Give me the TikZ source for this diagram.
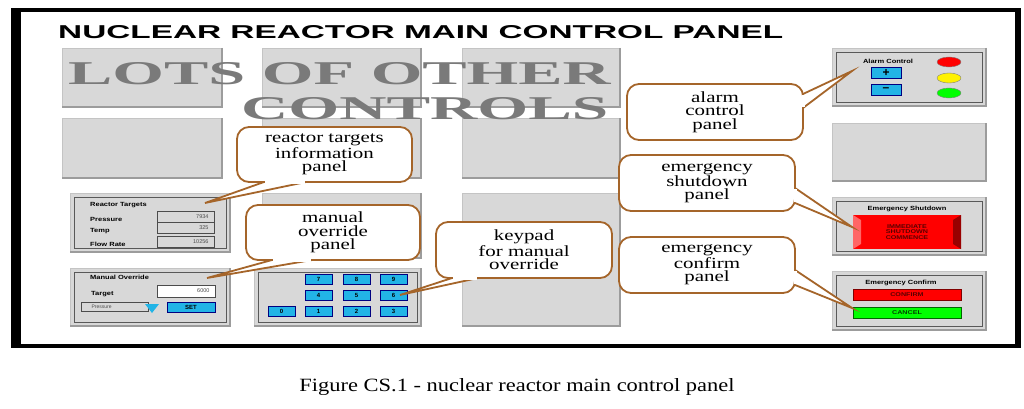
\documentclass[tikz,border=0pt]{standalone}
\usepackage{fontspec}
\setmainfont{Liberation Serif}
\setsansfont{Liberation Sans}
\usepackage{graphicx}
\definecolor{cb}{HTML}{A5652A}
\definecolor{gfill}{HTML}{D8D8D8}
\definecolor{gedge}{HTML}{9C9C9C}
\definecolor{cyanb}{HTML}{22B4E6}
\definecolor{bigtxt}{HTML}{7A7A7A}
\newcommand\fitt[3]{\resizebox{#1pt}{#2pt}{#3}}
\newcommand\gbox[4]{\fill[gfill] (#1,#2) rectangle (#3,#4);
 \draw[gedge!60,line width=0.8pt] (#1,#4) -- (#1,#2) -- (#3,#2);
 \draw[gedge,line width=2.2pt] (#3,#2) -- (#3,#4) -- (#1,#4);}
\newcommand\pbox[4]{\gbox{#1}{#2}{#3}{#4}\draw[gray!70!black,line width=0.5pt] (#1+4,#2+4) rectangle (#3-4,#4-4);}
\newcommand\tl[1]{{\sffamily\bfseries\fontsize{6}{6}\selectfont\scalebox{1.25}[1]{#1}}}
\newcommand\cbtn[5]{\fill[cyanb] (#1,#2) rectangle (#3,#4); \draw[blue!50!black,line width=0.6pt] (#1,#2) rectangle (#3,#4);
 \node[font=\sffamily\bfseries\fontsize{6}{6}\selectfont] at ({(#1+#3)/2},{(#2+#4)/2}) {#5};}
\tikzset{x=1pt,y=-1pt,
 callout/.style={draw=cb,line width=1.8pt,fill=white,rounded corners=12pt,align=center,
   font=\fontsize{15.5}{13.5}\selectfont,inner sep=0pt},
 ctail/.style={draw=cb,line width=1.8pt,fill=white},
 cgap/.style={white,line width=3pt,shorten <=1pt,shorten >=1pt}}
\newcommand\wide[1]{\scalebox{1.35}[1]{#1}}
\begin{document}
\begin{tikzpicture}
\useasboundingbox (0,0) rectangle (1024,409);
\fill[white] (0,0) rectangle (1024,409);
% frame
\fill[black] (11,8) rectangle (1021,348);
\fill[white] (21,12) rectangle (1015,344);
% title
\node[anchor=south west,inner sep=0pt] (title) at (58,39) {\sffamily\bfseries\fitt{725}{13}{NUCLEAR REACTOR MAIN CONTROL PANEL}};
% gray boxes
\gbox{62}{48}{222}{107} \gbox{62}{118}{222}{178}
\gbox{262}{48}{421}{107} \gbox{262}{118}{421}{178} \gbox{262}{193}{421}{258}
\gbox{462}{48}{620}{107} \gbox{462}{118}{620}{178} \gbox{462}{193}{620}{326}
\gbox{832}{123}{986}{181}
% big text
\node[anchor=south west,inner sep=0pt,text=bigtxt] (lots) at (68,85) {\bfseries\fitt{542}{22}{LOTS OF OTHER}};
\node[anchor=south west,inner sep=0pt,text=bigtxt] (ctrl) at (241,120) {\bfseries\fitt{367}{22}{CONTROLS}};
% reactor targets panel
\pbox{70}{193}{230}{252}
\node[anchor=west,inner sep=0pt] (rt) at (90,205) {\tl{Reactor Targets}};
\node[anchor=west,inner sep=0pt] (rp) at (90,219) {\tl{Pressure}};
\node[anchor=west,inner sep=0pt] (rtm) at (90,231) {\tl{Temp}};
\node[anchor=west,inner sep=0pt] (rf) at (90,244) {\tl{Flow Rate}};
\draw[gray!60!black,fill=gfill] (157,211) rectangle (214,222); \draw[gray!60!black,fill=gfill] (157,222) rectangle (214,233);
\draw[gray!60!black,fill=gfill] (157,236) rectangle (214,247);
\node[anchor=east,font=\sffamily\fontsize{5.5}{5.5}\selectfont,text=gray!60!black] at (212,216.5) {7934};
\node[anchor=east,font=\sffamily\fontsize{5.5}{5.5}\selectfont,text=gray!60!black] at (212,227.5) {325};
\node[anchor=east,font=\sffamily\fontsize{5.5}{5.5}\selectfont,text=gray!60!black] at (212,241.5) {10256};
% manual override panel
\pbox{70}{268}{230}{326}
\node[anchor=west,inner sep=0pt] (mo) at (90,277) {\tl{Manual Override}};
\node[anchor=west,inner sep=0pt] (tg) at (91,294) {\tl{Target}};
\draw[gray!60!black,fill=white] (157,285) rectangle (215,297);
\node[anchor=east,font=\sffamily\fontsize{5.5}{5.5}\selectfont,text=gray!60!black] at (213,291) {6000};
\draw[gray!60!black,fill=gfill] (81,302) rectangle (148,311);
\node[anchor=west,font=\sffamily\fontsize{5}{5}\selectfont,text=gray!60!black] at (88,306.5) {Pressure};
\fill[cyanb] (145,304) -- (159,304) -- (152,313) -- cycle;
\cbtn{167}{302}{215}{312}{SET}
% keypad
\pbox{254}{268}{421}{326}
\cbtn{305}{274}{332}{284}{7}\cbtn{343}{274}{370}{284}{8}\cbtn{380}{274}{407}{284}{9}
\cbtn{305}{290}{332}{300}{4}\cbtn{343}{290}{370}{300}{5}\cbtn{380}{290}{407}{300}{6}
\cbtn{268}{306}{295}{316}{0}\cbtn{305}{306}{332}{316}{1}\cbtn{343}{306}{370}{316}{2}\cbtn{380}{306}{407}{316}{3}
% alarm panel
\pbox{832}{48}{986}{106}
\node[inner sep=0pt] (ac) at (888,61) {\tl{Alarm Control}};
\cbtn{871}{67}{901}{78}{\large +}
\cbtn{871}{84}{901}{95}{\large --}
\draw[gray,fill=red] (949,62) ellipse (12 and 5);
\draw[gray,fill=yellow] (949,78) ellipse (12 and 5);
\draw[gray,fill=green] (949,93) ellipse (12 and 5);
% emergency shutdown
\pbox{832}{197}{986}{255}
\node[inner sep=0pt] (es) at (907,209) {\tl{Emergency Shutdown}};
\fill[red] (853,215) rectangle (961,249);
\fill[red!60!white] (853,215) -- (861,220) -- (861,244) -- (853,249) -- cycle;
\fill[red!60!black] (961,215) -- (953,220) -- (953,244) -- (961,249) -- cycle;
\node[align=center,text=red!35!black,font=\sffamily\bfseries\fontsize{5.5}{5.8}\selectfont] at (907,232) {\scalebox{1.3}[1]{IMMEDIATE}\\\scalebox{1.3}[1]{SHUTDOWN}\\\scalebox{1.3}[1]{COMMENCE}};
% emergency confirm
\pbox{832}{271}{986}{330}
\node[inner sep=0pt] (ec) at (901,283) {\tl{Emergency Confirm}};
\draw[red!50!black,fill=red] (853,289) rectangle (961,300);
\node[text=red!35!black,font=\sffamily\bfseries\fontsize{5.5}{5.5}\selectfont] at (907,294.5) {\scalebox{1.3}[1]{CONFIRM}};
\draw[green!40!black,fill=green] (853,307) rectangle (961,318);
\node[text=green!25!black,font=\sffamily\bfseries\fontsize{5.5}{5.5}\selectfont] at (907,312.5) {\scalebox{1.3}[1]{CANCEL}};
% callout targets
\coordinate (t1) at (205,203); \coordinate (t2) at (207,278); \coordinate (t3) at (400,295);
\coordinate (t4) at (852,71); \coordinate (t5) at (852,227); \coordinate (t6) at (852,308);
% callout 1
\coordinate (a1) at (264,182); \coordinate (b1) at (306,182);
\draw[ctail] (a1) -- (t1) -- (b1);
\node[callout,minimum width=175pt,minimum height=55pt] (c1) at (324.5,154.5) {\wide{reactor targets}\\\wide{information}\\\wide{panel}};
\draw[cgap] (a1) -- (b1);
% callout 2
\coordinate (a2) at (272,260); \coordinate (b2) at (312,260);
\draw[ctail] (a2) -- (t2) -- (b2);
\node[callout,minimum width=174pt,minimum height=55pt] (c2) at (333,232.5) {\wide{manual}\\\wide{override}\\\wide{panel}};
\draw[cgap] (a2) -- (b2);
% callout 3
\coordinate (a3) at (452,278); \coordinate (b3) at (478,278);
\draw[ctail] (a3) -- (t3) -- (b3);
\node[callout,minimum width=176pt,minimum height=56pt] (c3) at (524,250) {\wide{keypad}\\\wide{for manual}\\\wide{override}};
\draw[cgap] (a3) -- (b3);
% callout 4
\coordinate (a4) at (803,94); \coordinate (b4) at (803,108);
\draw[ctail] (a4) -- (t4) -- (b4);
\node[callout,minimum width=176pt,minimum height=56pt] (c4) at (715,112) {\wide{alarm}\\\wide{control}\\\wide{panel}};
\draw[cgap] (a4) -- (b4);
% callout 5
\coordinate (a5) at (795,188); \coordinate (b5) at (795,203);
\draw[ctail] (a5) -- (t5) -- (b5);
\node[callout,minimum width=176pt,minimum height=56pt] (c5) at (707,183) {\wide{emergency}\\\wide{shutdown}\\\wide{panel}};
\draw[cgap] (a5) -- (b5);
% callout 6
\coordinate (a6) at (795,270); \coordinate (b6) at (795,285);
\draw[ctail] (a6) -- (t6) -- (b6);
\node[callout,minimum width=176pt,minimum height=56pt] (c6) at (707,265) {\wide{emergency}\\\wide{confirm}\\\wide{panel}};
\draw[cgap] (a6) -- (b6);
% caption
\node[anchor=south,inner sep=0pt] (cap) at (517,396) {\fitt{435}{13}{Figure CS.1 - nuclear reactor main control panel}};
\end{tikzpicture}
\end{document}
